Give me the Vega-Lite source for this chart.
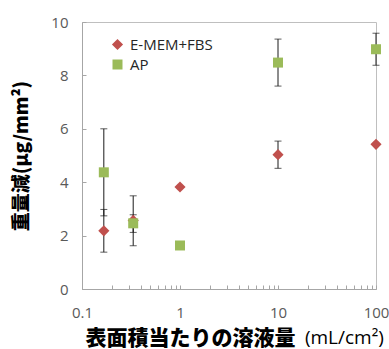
{
  "$schema": "https://vega.github.io/schema/vega-lite/v6.json",
  "width": 294,
  "height": 267,
  "autosize": {"type": "none"},
  "padding": {"left": 82, "top": 22, "right": 13, "bottom": 60},
  "background": "white",
  "config": {
    "view": {"stroke": "#BFBFBF", "strokeWidth": 1},
    "font": "Open Sans"
  },
  "title": {
    "text": "(mL/cm²)",
    "orient": "bottom",
    "anchor": "end",
    "font": "Open Sans",
    "fontSize": 19,
    "fontWeight": "normal",
    "color": "#000000",
    "offset": -19,
    "dx": -5
  },
  "data": {
    "values": [
      {"series": "E-MEM+FBS", "x": 0.167, "y": 2.18, "lo": 1.38, "hi": 2.98},
      {"series": "E-MEM+FBS", "x": 0.333, "y": 2.57, "lo": 1.62, "hi": 3.49},
      {"series": "E-MEM+FBS", "x": 1, "y": 3.82},
      {"series": "E-MEM+FBS", "x": 10, "y": 5.03, "lo": 4.52, "hi": 5.54},
      {"series": "E-MEM+FBS", "x": 100, "y": 5.42},
      {"series": "AP", "x": 0.167, "y": 4.37, "lo": 2.74, "hi": 6.0},
      {"series": "AP", "x": 0.333, "y": 2.46, "lo": 2.12, "hi": 2.78},
      {"series": "AP", "x": 1, "y": 1.63},
      {"series": "AP", "x": 10, "y": 8.48, "lo": 7.6, "hi": 9.36},
      {"series": "AP", "x": 100, "y": 8.98, "lo": 8.38, "hi": 9.58}
    ]
  },
  "encoding": {
    "x": {
      "field": "x",
      "type": "quantitative",
      "scale": {"type": "log", "domain": [0.1, 100], "nice": false},
      "axis": {
        "values": [0.1, 0.2, 0.3, 0.4, 0.5, 0.6, 0.7, 0.8, 0.9, 1, 2, 3, 4, 5, 6, 7, 8, 9, 10, 20, 30, 40, 50, 60, 70, 80, 90, 100],
        "labelExpr": "indexof([0.1, 1, 10, 100], datum.value) >= 0 ? datum.label : ''",
        "format": "~g",
        "grid": false,
        "tickSize": -4,
        "tickColor": "#A6A6A6",
        "domainColor": "#A6A6A6",
        "labelFontSize": 15,
        "labelColor": "#595959",
        "labelPadding": 20,
        "labelFlush": false,
        "labelOverlap": false,
        "title": "表面積当たりの溶液量",
        "titleFont": "Noto Sans CJK JP",
        "titleFontWeight": 900,
        "titleFontSize": 21,
        "titleColor": "#000000",
        "titleAnchor": "start",
        "titleAlign": "left",
        "titleX": 3,
        "titlePadding": 7
      }
    },
    "y": {
      "type": "quantitative",
      "scale": {"domain": [0, 10], "nice": false}
    }
  },
  "layer": [
    {
      "transform": [{"filter": "isValid(datum.lo)"}],
      "mark": {"type": "rule", "color": "#1A1A1A", "strokeWidth": 1},
      "encoding": {
        "y": {"field": "lo", "type": "quantitative", "scale": {"domain": [0, 10], "nice": false},
          "axis": {
            "values": [0, 1, 2, 3, 4, 5, 6, 7, 8, 9, 10],
            "labelExpr": "datum.value % 2 === 0 ? datum.label : ''",
            "grid": false,
            "tickSize": -4,
            "tickColor": "#A6A6A6",
            "domainColor": "#A6A6A6",
            "labelFontSize": 15,
            "labelColor": "#595959",
            "labelPadding": 18,
            "labelFlush": false,
            "title": "重量減(μg/mm²)",
            "titleFont": "Noto Sans CJK JP",
            "titleFontWeight": 900,
            "titleFontSize": 19,
            "titleColor": "#000000",
            "titlePadding": 19
          }},
        "y2": {"field": "hi"}
      }
    },
    {
      "transform": [{"filter": "isValid(datum.lo)"}],
      "mark": {"type": "tick", "orient": "horizontal", "color": "#1A1A1A", "size": 7, "thickness": 1},
      "encoding": {"y": {"field": "lo", "type": "quantitative"}}
    },
    {
      "transform": [{"filter": "isValid(datum.hi)"}],
      "mark": {"type": "tick", "orient": "horizontal", "color": "#1A1A1A", "size": 7, "thickness": 1},
      "encoding": {"y": {"field": "hi", "type": "quantitative"}}
    },
    {
      "mark": {"type": "point", "filled": true, "opacity": 1, "strokeWidth": 0},
      "encoding": {
        "y": {"field": "y", "type": "quantitative"},
        "color": {
          "field": "series",
          "type": "nominal",
          "scale": {"domain": ["E-MEM+FBS", "AP"], "range": ["#C0504D", "#9BBB59"]},
          "legend": {
            "title": null,
            "orient": "none",
            "legendX": 28,
            "legendY": 15,
            "padding": 0,
            "labelFontSize": 15,
            "labelColor": "#262626",
            "labelFont": "Open Sans",
            "labelOffset": 5,
            "symbolSize": 90,
            "rowPadding": 4,
            "symbolStrokeWidth": 0
          }
        },
        "shape": {
          "field": "series",
          "type": "nominal",
          "scale": {"domain": ["E-MEM+FBS", "AP"], "range": ["diamond", "square"]}
        },
        "size": {
          "field": "series",
          "type": "nominal",
          "scale": {"domain": ["E-MEM+FBS", "AP"], "range": [125, 100]},
          "legend": null
        }
      }
    }
  ]
}
